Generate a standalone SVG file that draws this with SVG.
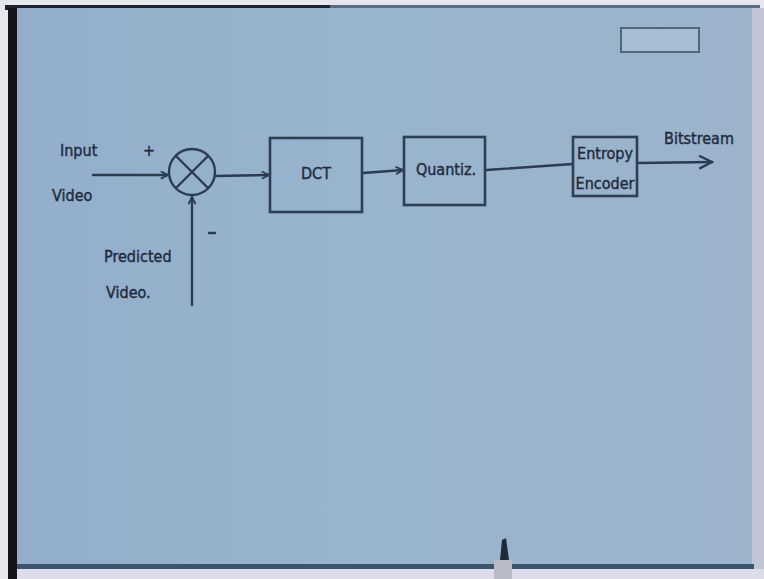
<svg xmlns="http://www.w3.org/2000/svg" width="764" height="579" viewBox="0 0 764 579">
<defs>
<style>
.ln{stroke:#2b3b52;stroke-width:2.4;fill:none;stroke-linecap:round;stroke-linejoin:round}
.bx{stroke:#2e3e55;stroke-width:2.6;fill:none}
.t{font-family:"DejaVu Sans Condensed","DejaVu Sans",sans-serif;fill:#1f2c40;font-size:16px;stroke:#1f2c40;stroke-width:0.4}
</style>
<marker id="ah" viewBox="0 0 10 10" refX="9" refY="5" markerWidth="9" markerHeight="9" orient="auto" markerUnits="userSpaceOnUse">
<path d="M1,1 L9,5 L1,9" fill="none" stroke="#2b3b52" stroke-width="2"/>
</marker>
<marker id="ahb" viewBox="0 0 10 10" refX="9" refY="5" markerWidth="16" markerHeight="16" orient="auto" markerUnits="userSpaceOnUse">
<path d="M1,1 L9,5 L1,9" fill="none" stroke="#2b3b52" stroke-width="1.5"/>
</marker>
<linearGradient id="bg" x1="0" y1="0" x2="1" y2="0">
<stop offset="0" stop-color="#93aecb"/>
<stop offset="0.5" stop-color="#99b4cd"/>
<stop offset="1" stop-color="#9cb3cb"/>
</linearGradient>
</defs>
<rect x="0" y="0" width="764" height="579" fill="#e6e6ee"/>
<rect x="5" y="5" width="325" height="5" fill="#1c2230"/>
<rect x="330" y="5" width="430" height="5" fill="#5d6a84"/>
<rect x="8" y="8" width="746" height="562" fill="url(#bg)"/>
<rect x="8" y="8" width="9" height="571" fill="#141518"/>
<rect x="752" y="8" width="12" height="562" fill="#c2c6d4"/>
<rect x="17" y="564" width="737" height="5" fill="#3c5470"/>
<rect x="17" y="569" width="747" height="10" fill="#dcdcea"/>
<rect x="621" y="28" width="78" height="24" fill="#a6bdd2" stroke="#51657f" stroke-width="2"/>
<g id="connectors">
<line class="ln" x1="93" y1="175" x2="168" y2="175" marker-end="url(#ah)"/>
<line class="ln" x1="192" y1="305" x2="192" y2="197" marker-end="url(#ah)"/>
<line class="ln" x1="215" y1="176" x2="269" y2="175" marker-end="url(#ah)"/>
<line class="ln" x1="363" y1="173" x2="403" y2="170" marker-end="url(#ah)"/>
<line class="ln" x1="486" y1="170" x2="573" y2="164"/>
<line class="ln" x1="638" y1="163" x2="712" y2="162" marker-end="url(#ahb)"/>
</g>
<g id="input-label">
<text class="t" x="60" y="156">Input</text>
<text class="t" x="52" y="201">Video</text>
<text class="t" x="143" y="156" font-size="17">+</text>
</g>
<g id="summer">
<circle class="ln" cx="192" cy="172" r="23"/>
<line class="ln" x1="176" y1="156" x2="208" y2="188"/>
<line class="ln" x1="208" y1="156" x2="176" y2="188"/>
<line class="ln" x1="209" y1="233" x2="215" y2="233"/>
</g>
<g id="predicted-label">
<text class="t" x="104" y="262">Predicted</text>
<text class="t" x="106" y="298">Video.</text>
</g>
<g id="dct">
<rect class="bx" x="270" y="138" width="92" height="74"/>
<text class="t" x="316" y="179" text-anchor="middle" font-size="18">DCT</text>
</g>
<g id="quantiz">
<rect class="bx" x="404" y="137" width="81" height="68"/>
<text class="t" x="446" y="175" text-anchor="middle" font-size="14">Quantiz.</text>
</g>
<g id="entropy-encoder">
<rect class="bx" x="573" y="137" width="64" height="59"/>
<text class="t" x="605" y="159" text-anchor="middle" font-size="12">Entropy</text>
<text class="t" x="605" y="189" text-anchor="middle" font-size="12">Encoder</text>
</g>
<g id="bitstream-label">
<text class="t" x="664" y="144" font-size="14">Bitstream</text>
</g>
<g id="pen">
<path d="M500,560 L502,540 L506,538 L509,560 Z" fill="#1e2a3a"/>
<rect x="494" y="560" width="18" height="19" fill="#b8bcc6"/>
</g>
</svg>
